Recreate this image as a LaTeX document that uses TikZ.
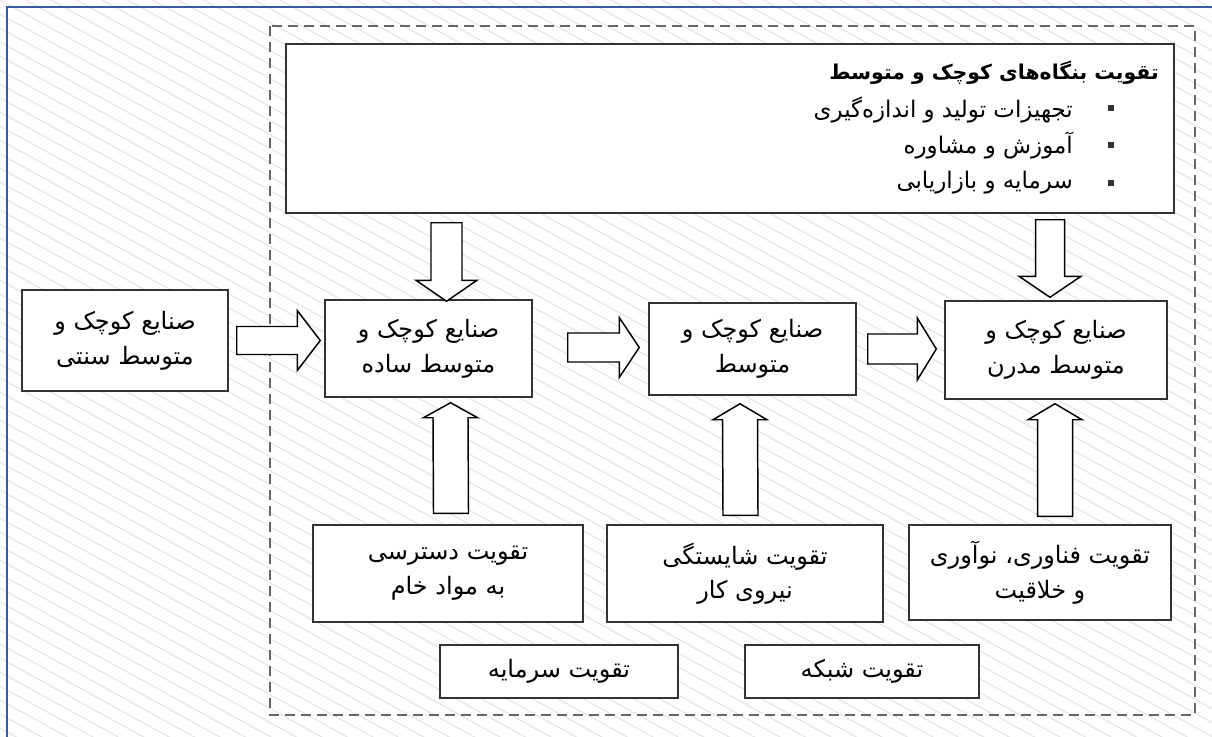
\documentclass[tikz,border=0pt]{standalone}
\usepackage{fontspec}
\usetikzlibrary{calc}
\newfontfamily\arabicfont[Script=Arabic]{DejaVu Sans}
\TeXXeTstate=1
\newcommand\ar[1]{\beginR #1\endR}
\definecolor{hatch}{HTML}{E6E6E6}
\definecolor{frameblue}{HTML}{3A5A9A}
\definecolor{boxline}{HTML}{333333}
\definecolor{dashgray}{HTML}{666666}
\tikzset{
  box/.style={draw=boxline, line width=1.1pt, fill=white, inner sep=0pt, align=center,
    font=\arabicfont\fontsize{18}{26}\selectfont},
  itemtext/.style={inner sep=0pt, font=\arabicfont\fontsize{17.2}{22}\selectfont},
  titletext/.style={inner sep=0pt, font=\arabicfont\bfseries\fontsize{15.3}{20}\selectfont},
  blk/.style={draw=black, line width=1.1pt, fill=white, line join=miter},
  bullet/.style={fill=boxline, draw=none, minimum size=4.5pt, inner sep=0pt},
}
% box by corners (pixels)
\newcommand\bx[6]{\node[box, minimum width={(#4-#2)*0.75pt}, minimum height={(#5-#3)*0.75pt}] (#1) at ({(#2+#4)/2},{(#3+#5)/2}) {#6};}
% horizontal block arrow: start, tip, shaft half, head half, head length
\newcommand\harr[5]{\draw[blk] ($(#1)+(0,-#3)$) -- ($(#2)+(-#5,-#3)$) -- ($(#2)+(-#5,-#4)$) -- (#2) -- ($(#2)+(-#5,#4)$) -- ($(#2)+(-#5,#3)$) -- ($(#1)+(0,#3)$) -- cycle;}
% vertical block arrow: start, tip, shaft half, head half, signed head length (positive = pointing down)
\newcommand\varr[5]{\draw[blk] ($(#1)+(-#3,0)$) -- ($(#2)+(-#3,-#5)$) -- ($(#2)+(-#4,-#5)$) -- (#2) -- ($(#2)+(#4,-#5)$) -- ($(#2)+(#3,-#5)$) -- ($(#1)+(#3,0)$) -- cycle;}
\begin{document}
\begin{tikzpicture}[x=0.75pt, y=-0.75pt]
\useasboundingbox (0,0) rectangle (1212,736);
\begin{scope}
\clip (0,0) rectangle (1212,736);
\fill[white] (0,0) rectangle (1212,736);
\foreach \i in {-50,...,55} {
  \draw[hatch, line width=0.9pt] (-10,{\i*14-5.5}) -- (1222,{\i*14+0.55*1222});
}
\draw[frameblue, line width=1.3pt] (7,7) rectangle (1230,750);
\end{scope}
% dashed frame
\draw[dashgray, line width=1.5pt, dash pattern=on 7.5pt off 4.5pt] (270,26) rectangle (1195,715);
% top box
\node[draw=boxline, line width=1.1pt, fill=white, inner sep=0pt, minimum width={(1174-286)*0.75pt}, minimum height={(213-44)*0.75pt}] (T) at ({(286+1174)/2},{(44+213)/2}) {};
\node[titletext, anchor=east] (T0) at (1159,73) {\ar{تقویت بنگاه‌های کوچک و متوسط}};
\node[itemtext, anchor=east] (T1) at (1073,110) {\ar{تجهیزات تولید و اندازه‌گیری}};
\node[itemtext, anchor=east] (T2) at (1073,146) {\ar{آموزش و مشاوره}};
\node[itemtext, anchor=east] (T3) at (1073,183) {\ar{سرمایه و بازاریابی}};
\node[bullet] (b1) at (1110.5,108) {};
\node[bullet] (b2) at (1110.5,145) {};
\node[bullet] (b3) at (1110.5,183) {};
% boxes
\bx{L}{22}{290}{228}{391}{\ar{صنایع کوچک و}\\\ar{متوسط سنتی}}
\bx{S}{325}{300}{532}{397}{\ar{صنایع کوچک و}\\\ar{متوسط ساده}}
\bx{M}{649}{303}{856}{395}{\ar{صنایع کوچک و}\\\ar{متوسط}}
\bx{N}{945}{301}{1167}{399}{\ar{صنایع کوچک و}\\\ar{متوسط مدرن}}
\bx{B1}{313}{525}{583}{622}{\ar{تقویت دسترسی}\\\ar{به مواد خام}}
\bx{B2}{607}{525}{883}{622}{\ar{تقویت شایستگی}\\\ar{نیروی کار}}
\bx{B3}{909}{525}{1171}{620}{\ar{تقویت فناوری، نوآوری}\\\ar{و خلاقیت}}
\bx{C1}{440}{645}{678}{698}{\ar{تقویت سرمایه}}
\bx{C2}{745}{645}{979}{698}{\ar{تقویت شبکه}}
% arrow end points
\coordinate (h1s) at ($(L.east)+(8,0)$);
\coordinate (h1e) at ($(S.west|-L.east)+(-4,0)$);
\coordinate (h2s) at ($(S.east)+(35,-1)$);
\coordinate (h2e) at ($(M.west|-S.east)+(-9,-1)$);
\coordinate (h3s) at ($(M.east)+(11,0)$);
\coordinate (h3e) at ($(N.west|-M.east)+(-8,0)$);
\coordinate (d1s) at ($(T.south-|S.north)+(18,9)$);
\coordinate (d1e) at ($(S.north)+(18,2)$);
\coordinate (d2s) at ($(T.south-|N.north)+(-6,6)$);
\coordinate (d2e) at ($(N.north)+(-6,-3)$);
\coordinate (u1s) at ($(B1.north)+(3,-11)$);
\coordinate (u1e) at ($(S.south)+(22,5)$);
\coordinate (u2s) at ($(B2.north)+(-4.5,-9)$);
\coordinate (u2e) at ($(M.south)+(-12.5,8)$);
\coordinate (u3s) at ($(B3.north)+(15,-8)$);
\coordinate (u3e) at ($(N.south)+(-1,4)$);
% block arrows
\harr{h1s}{h1e}{14}{30}{23}
\harr{h2s}{h2e}{14.5}{30}{20}
\harr{h3s}{h3e}{15}{31}{19}
\varr{d1s}{d1e}{15.5}{30.5}{21}
\varr{d2s}{d2e}{14.5}{31}{21}
\varr{u1s}{u1e}{17.5}{27}{-15}
\varr{u2s}{u2e}{17.5}{27}{-16}
\varr{u3s}{u3e}{17.5}{27}{-16}
\end{tikzpicture}
\end{document}
